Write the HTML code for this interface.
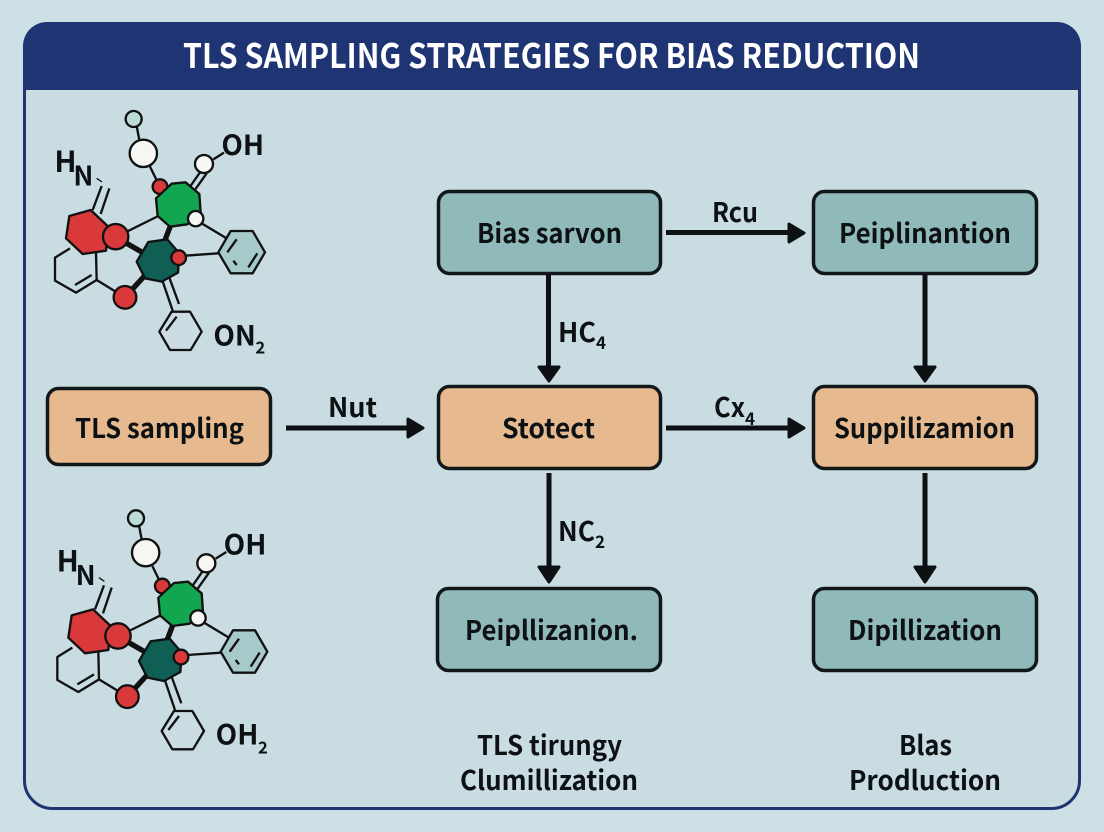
<!DOCTYPE html>
<html><head><meta charset="utf-8"><title>TLS Sampling Strategies for Bias Reduction</title>
<style>
html,body{margin:0;padding:0;background:#cde0e5}
svg{display:block}
text{font-family:"Noto Sans CJK SC","Liberation Sans",sans-serif;font-weight:700;fill:#0d1114}
</style></head>
<body>
<svg width="1104" height="832" viewBox="0 0 1104 832" xmlns="http://www.w3.org/2000/svg">
<defs>
<g id="mol" fill="none" stroke="#111" stroke-width="7" stroke-linejoin="round">
  <path d="M350 108L358 150M390 230L412 275M580 208L612 188"/>
  <path d="M510 290L545 240M526 298L560 250"/>
  <path d="M218 360L245 288M242 372L268 295"/>
  <path d="M230 265L246 276" stroke-width="4"/>
  <path d="M320 425L415 378M545 400L620 445M495 497L595 490"/>
  <path d="M425 565L458 662M447 560L477 642"/>
  <path d="M230 570L315 622"/>
  <path d="M150 475L105 503V572L168 608L230 570L228 488"/>
  <path d="M165 585L215 555"/>
  <path d="M320 460L372 490M315 622L385 545" stroke-width="16"/>
  <path d="M432 458L458 390" stroke-width="16"/>
  <polygon points="148,378 212,360 265,410 258,482 188,492 138,445" fill="#d9393a"/>
  <polygon points="595,487 632,423 698,423 735,487 698,550 632,550" fill="#a6c9c9"/>
  <path d="M622 487L650 448M685 532L712 490M640 512L650 525"/>
  <polygon points="418,725 455,665 510,665 545,725 512,780 450,780" fill="#cbdde3"/>
  <path d="M438 722L470 680"/>
  <circle cx="420" cy="290" r="22" fill="#d9393a"/>
  <polygon points="455,281 497,277 538,312 542,368 502,403 450,410 413,378 408,325" fill="#12a650"/>
  <polygon points="385,456 442,448 478,490 474,548 425,575 375,565 350,515" fill="#0f5f54"/>
  <circle cx="287" cy="440" r="38" fill="#d9393a"/>
  <circle cx="315" cy="622" r="34" fill="#d9393a"/>
  <circle cx="476" cy="503" r="22" fill="#d9393a"/>
  <circle cx="370" cy="190" r="41" fill="#f6f6f3"/>
  <circle cx="552" cy="222" r="27" fill="#f6f6f3"/>
  <circle cx="527" cy="386" r="23" fill="#f6f6f3"/>
  <circle cx="341" cy="87" r="24" fill="#bddcd9"/>
</g>
</defs>
<rect width="1104" height="832" fill="#cde0e5"/>
<rect x="24.500" y="30" width="1055" height="778.500" rx="28" fill="#c9dce2" stroke="#1f3572" stroke-width="3"/>
<path d="M23 90V46A24 24 0 0 1 47 22H1057A24 24 0 0 1 1081 46V90Z" fill="#1f3472"/>
<text x="183" y="68" font-size="34" textLength="737" lengthAdjust="spacingAndGlyphs" style="fill:#fff">TLS SAMPLING STRATEGIES FOR BIAS REDUCTION</text>

<!-- molecules -->
<g transform="translate(20 90) scale(.33333)"><use href="#mol"/>
  <text x="103" y="246" font-size="88">H</text><text x="160" y="287" font-size="80">N</text>
  <text x="604" y="195" font-size="84">OH</text>
  <text x="580" y="766" font-size="84">ON</text><text x="706" y="790" font-size="50">2</text>
</g>
<g transform="translate(20 490) scale(.33333)"><g transform="translate(7 -2)"><use href="#mol"/></g>
  <text x="110" y="244" font-size="88">H</text><text x="167" y="285" font-size="80">N</text>
  <text x="611" y="193" font-size="84">OH</text>
  <text x="587" y="764" font-size="84">OH</text><text x="714" y="790" font-size="50">2</text>
</g>

<!-- boxes -->
<g stroke="#12181a" stroke-width="3.500">
  <rect x="438.500" y="191.500" width="222" height="82" rx="11" fill="#90b9b9"/>
  <rect x="813.500" y="191.500" width="223" height="82" rx="11" fill="#90b9b9"/>
  <rect x="47.500" y="388.500" width="223" height="76" rx="11" fill="#e6ba8e"/>
  <rect x="438.500" y="386.500" width="222" height="82" rx="11" fill="#e6ba8e"/>
  <rect x="813.500" y="386.500" width="223" height="82" rx="11" fill="#e6ba8e"/>
  <rect x="437.500" y="588.500" width="223" height="82" rx="11" fill="#90b9b9"/>
  <rect x="813.500" y="588.500" width="223" height="82" rx="11" fill="#90b9b9"/>
</g>

<!-- arrows -->
<g stroke="#0d1114" stroke-width="5" fill="none">
  <path d="M666 232.500H792M666 428H792M286 428H412"/>
  <path d="M548.500 274V372M549 473V570M925 274V372M925 473V570"/>
</g>
<g fill="#0d1114" stroke="#0d1114" stroke-width="3" stroke-linejoin="round">
  <path d="M789 224L804 233L789 242Z"/>
  <path d="M789 419L804 428L789 437Z"/>
  <path d="M408 419L423 428L408 437Z"/>
  <path d="M539 367L549 381L559 367Z"/>
  <path d="M915 367L925 381L935 367Z"/>
  <path d="M539 567L549 582L559 567Z"/>
  <path d="M915 567L925 582L935 567Z"/>
</g>

<!-- box text -->
<g font-size="27">
  <text x="477" y="243" textLength="145" lengthAdjust="spacingAndGlyphs">Bias sarvon</text>
  <text x="839" y="243" textLength="172" lengthAdjust="spacingAndGlyphs">Peiplinantion</text>
  <text x="75" y="438" textLength="169" lengthAdjust="spacingAndGlyphs">TLS sampling</text>
  <text x="502" y="438" textLength="93" lengthAdjust="spacingAndGlyphs">Stotect</text>
  <text x="834" y="438" textLength="181" lengthAdjust="spacingAndGlyphs">Suppilizamion</text>
  <text x="465" y="640" textLength="173" lengthAdjust="spacingAndGlyphs">Peipllizanion.</text>
  <text x="848" y="640" textLength="154" lengthAdjust="spacingAndGlyphs">Dipillization</text>
  <!-- connector labels -->
  <text x="712" y="222" textLength="46" lengthAdjust="spacingAndGlyphs">Rcu</text>
  <text x="558" y="342" textLength="38" lengthAdjust="spacingAndGlyphs">HC</text>
  <text x="596" y="349" font-size="17">4</text>
  <text x="714" y="417" textLength="31" lengthAdjust="spacingAndGlyphs">Cx</text>
  <text x="745" y="425" font-size="17">4</text>
  <text x="328" y="417" textLength="49" lengthAdjust="spacingAndGlyphs">Nut</text>
  <text x="558" y="541" textLength="37" lengthAdjust="spacingAndGlyphs">NC</text>
  <text x="595" y="548" font-size="17">2</text>
  <!-- captions -->
  <text x="477" y="755" textLength="145" lengthAdjust="spacingAndGlyphs">TLS tirungy</text>
  <text x="460" y="790" textLength="178" lengthAdjust="spacingAndGlyphs">Clumillization</text>
  <text x="899" y="755" textLength="53" lengthAdjust="spacingAndGlyphs">Blas</text>
  <text x="849" y="790" textLength="152" lengthAdjust="spacingAndGlyphs">Prodluction</text>
</g>
</svg>
</body></html>
